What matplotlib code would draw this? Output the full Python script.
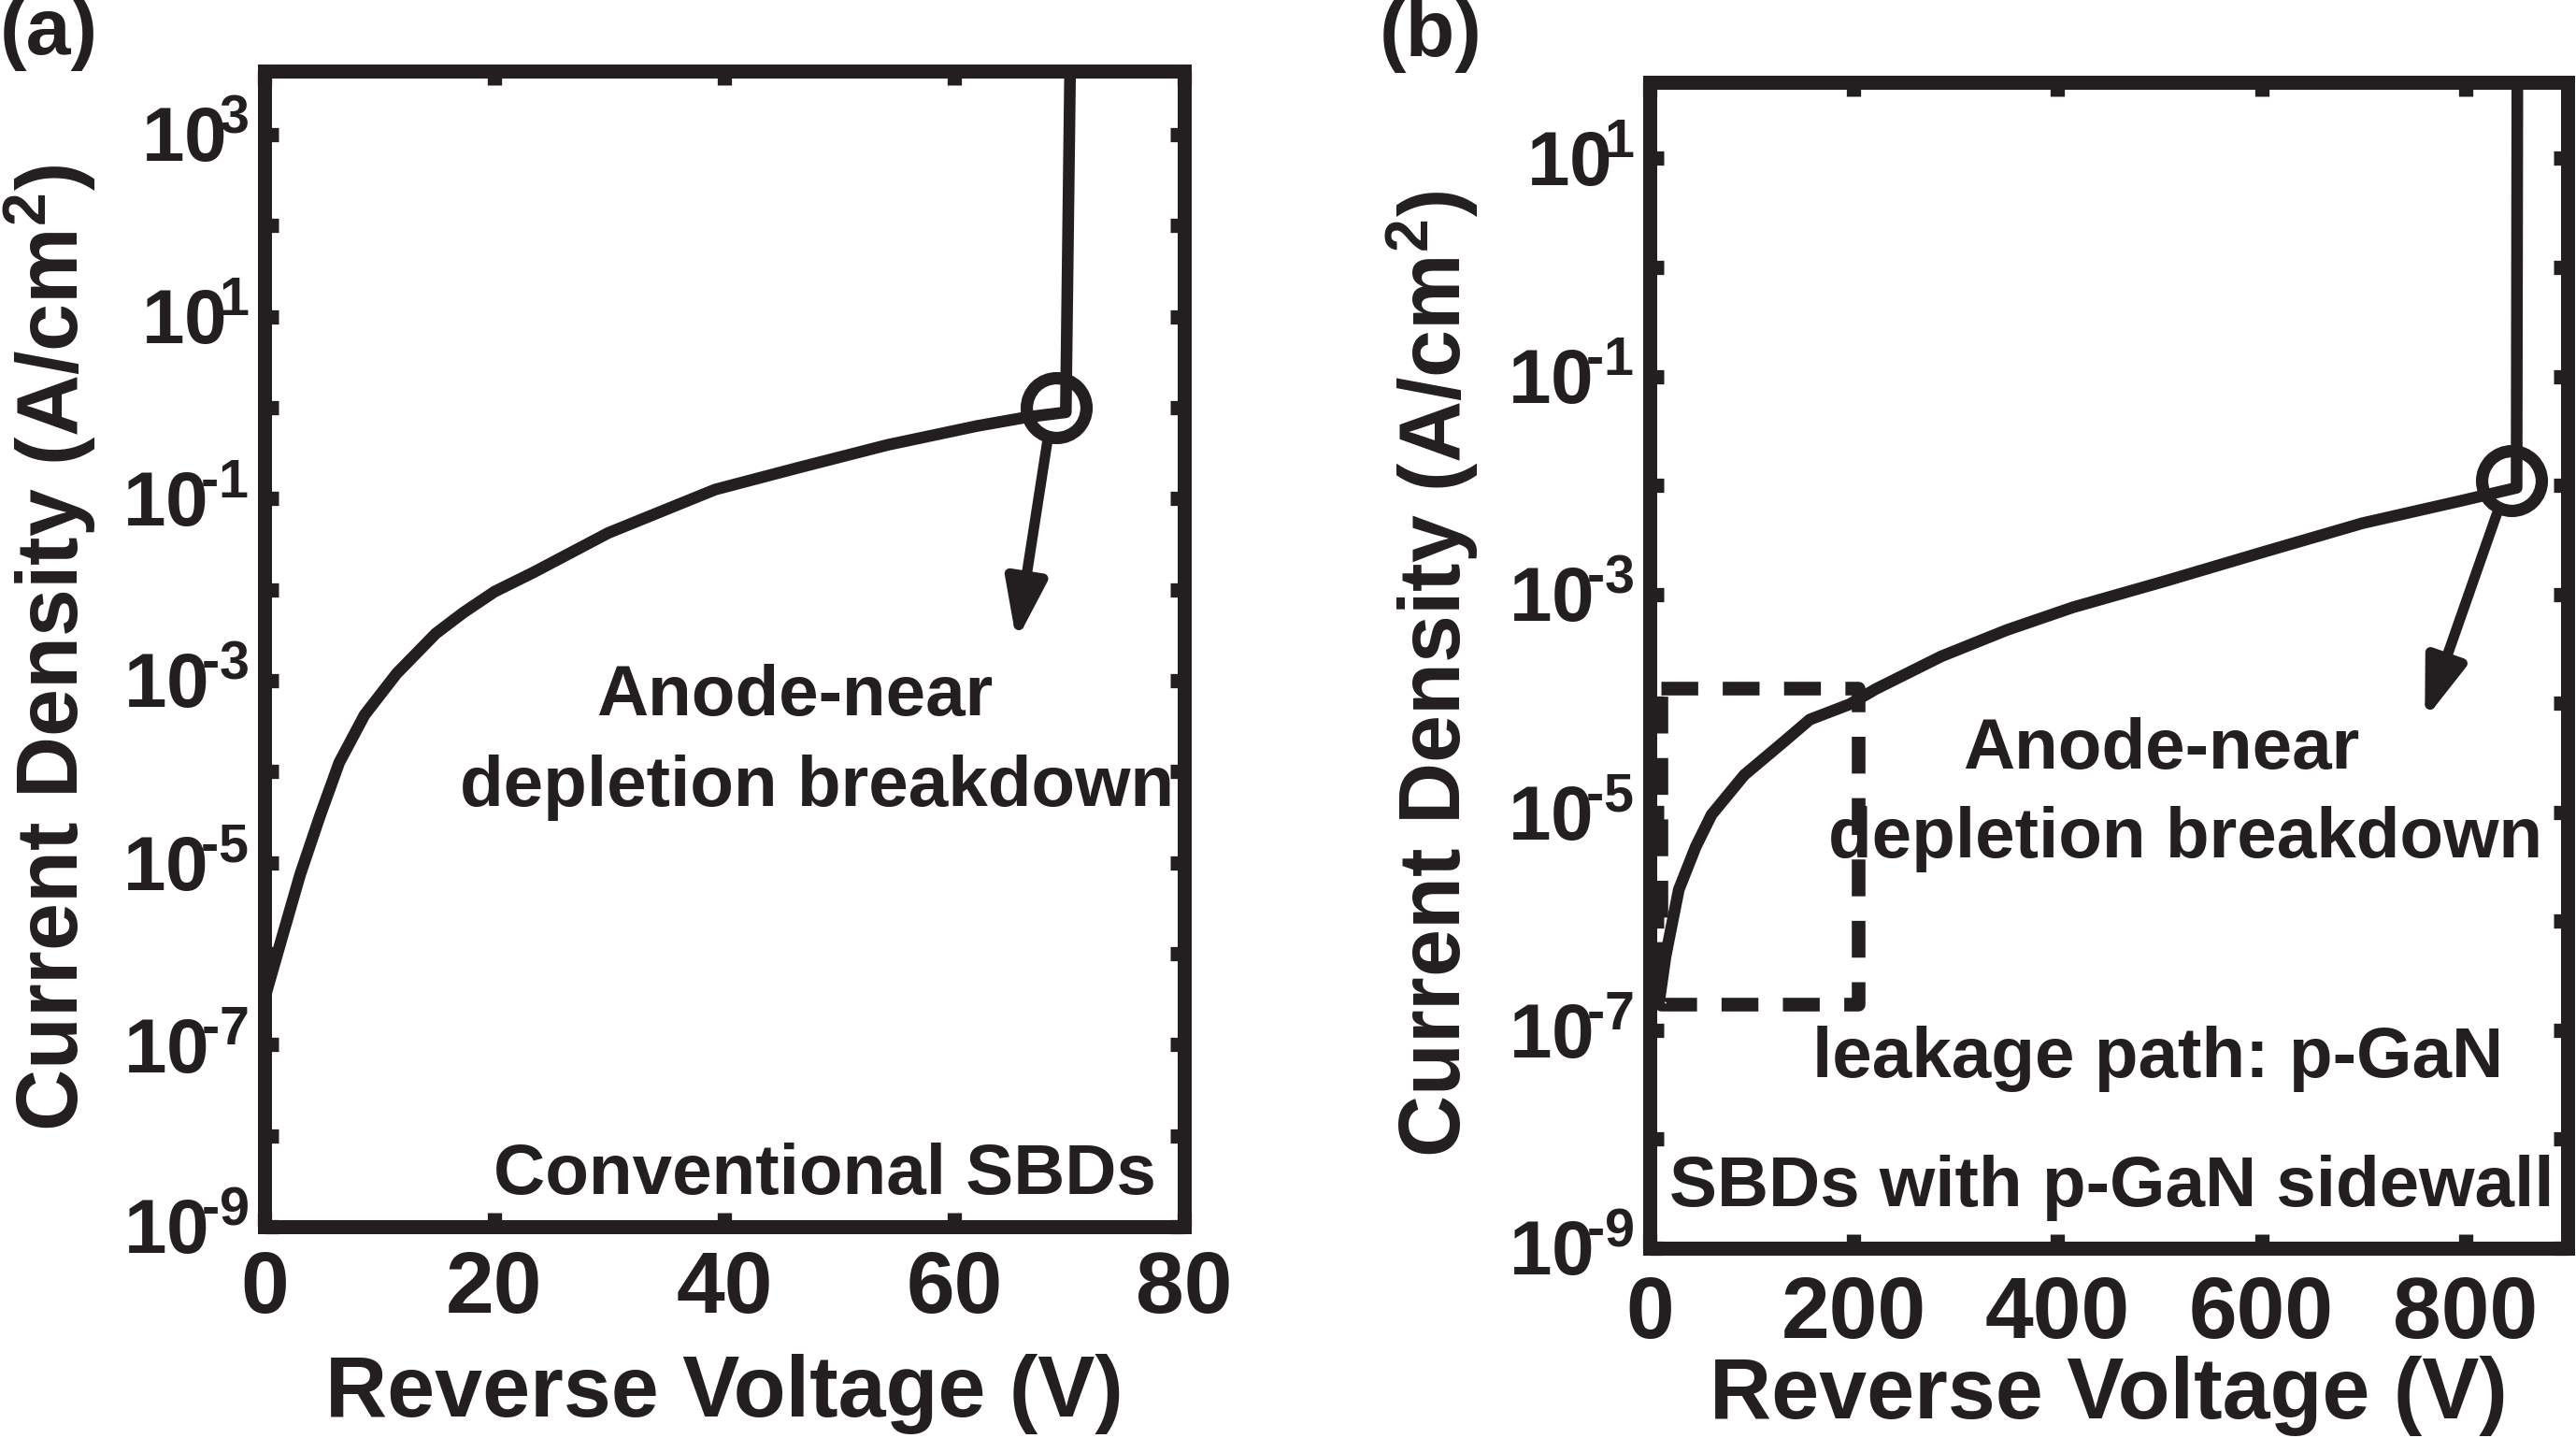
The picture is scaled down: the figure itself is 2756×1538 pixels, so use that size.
import matplotlib
matplotlib.use('Agg')
import matplotlib.pyplot as plt
from matplotlib.ticker import NullLocator

plt.rcParams['font.family'] = ['Liberation Sans', 'DejaVu Sans']
plt.rcParams['font.weight'] = 'bold'
plt.rcParams['mathtext.fontset'] = 'custom'
plt.rcParams['mathtext.bf'] = 'Liberation Sans:bold'
plt.rcParams['mathtext.rm'] = 'Liberation Sans:bold'
plt.rcParams['mathtext.it'] = 'Liberation Sans:bold'
plt.rcParams['mathtext.default'] = 'bf'

INK = '#231f20'

# (a) conventional SBDs: reverse voltage (V) vs current density (A/cm2)
va = [0.0, 1.45, 3.1, 4.8, 6.5, 8.7, 11.5, 14.9, 17.3, 20.0, 23.4, 29.9,
      39.2, 46.5, 54.2, 62.0, 66.4, 69.7, 70.1]
ja = [3.2e-7, 1.4e-6, 7.4e-6, 3.2e-5, 1.26e-4, 4.2e-4, 1.2e-3, 3.3e-3,
      5.6e-3, 9.5e-3, 1.55e-2, 4.2e-2, 0.126, 0.22, 0.39, 0.63, 0.79, 0.89, 1e4]
circ_a = (68.9, 1.0)
arrow_a = ((68.1, 0.43), (65.4, 2.75e-3))

# (b) SBDs with p-GaN sidewall
vb = [9, 11, 15.6, 28.5, 45, 60.6, 92.7, 131, 157, 196, 221.5, 286, 350,
      415, 505, 602, 699, 795, 850, 851]
jb = [1.75e-7, 2.4e-7, 4.8e-7, 1.95e-6, 4.8e-6, 9.5e-6, 2.2e-5, 4.4e-5,
      7.1e-5, 9.8e-5, 1.35e-4, 2.7e-4, 4.7e-4, 7.6e-4, 1.32e-3, 2.45e-3,
      4.5e-3, 7.2e-3, 9.5e-3, 1e3]
circ_b = (845, 1.1e-2)
arrow_b = ((830.7, 5.5e-3), (760, 7.1e-5))
box_v = [11, 204, 204, 11, 11]
box_j = [1.38e-4, 1.38e-4, 1.74e-7, 1.74e-7, 1.38e-4]

W, H = 2756, 1538
fig = plt.figure(figsize=(W / 100, H / 100), dpi=100)
axa = fig.add_axes([283 / W, (H - 1312) / H, 984 / W, 1236 / H])
axb = fig.add_axes([1765 / W, (H - 1335) / H, 982 / W, 1247 / H])


def exp_label(k):
    if k % 2 == 0:
        return ''
    if k < 0:
        return r'$10^{\!\text{-}%d}$' % (-k)
    return r'$10^{\!%d}$' % k


def style(ax, xt, klo, khi, xpad):
    ax.set_yscale('log')
    for s in ax.spines.values():
        s.set_linewidth(10.8)
        s.set_color(INK)
    ax.tick_params(which='both', direction='in', top=True, right=True,
                   length=10.5, width=11, color=INK, labelcolor=INK)
    ax.tick_params(axis='x', labelsize=67, pad=xpad)
    ax.tick_params(axis='y', labelsize=59, pad=12)
    ax.set_xticks(xt)
    ax.set_xticklabels([str(v) for v in xt])
    ks = list(range(klo, khi + 1))
    ax.set_yticks([10.0 ** k for k in ks])
    ax.set_yticklabels([exp_label(k) for k in ks])
    ax.yaxis.set_minor_locator(NullLocator())


style(axa, [0, 20, 40, 60, 80], -9, 3, 18)
axa.set_xlim(0, 80)
axa.set_ylim(1e-9, 5e3)

style(axb, [0, 200, 400, 600, 800], -9, 1, 21)
axb.set_xlim(0, 900)
axb.set_ylim(1e-9, 50)

for ax, v, j, c, arr in [(axa, va, ja, circ_a, arrow_a), (axb, vb, jb, circ_b, arrow_b)]:
    ax.plot(v, j, color=INK, lw=9, solid_joinstyle='round', solid_capstyle='round')
    ax.plot([c[0]], [c[1]], 'o', ms=46, mfc='none', mec=INK, mew=9.5)
    ax.annotate('', xy=arr[1], xytext=arr[0],
                arrowprops=dict(arrowstyle='-|>,head_length=38,head_width=13',
                                mutation_scale=1, lw=8, color=INK,
                                shrinkA=0, shrinkB=0))

axb.plot(box_v, box_j, color=INK, lw=10.5, linestyle=(0, (2.7, 1.8)))

tk = dict(ha='center', va='baseline', fontsize=55, color=INK)
axa.text(0.576, 0.4426, 'Anode-near', transform=axa.transAxes, **tk)
axa.text(0.601, 0.3637, 'depletion breakdown', transform=axa.transAxes, **tk)
axa.text(0.609, 0.028, 'Conventional SBDs', transform=axa.transAxes, **tk)

axb.text(0.557, 0.411, 'Anode-near', transform=axb.transAxes, **tk)
axb.text(0.5835, 0.3356, 'depletion breakdown', transform=axb.transAxes, **tk)
axb.text(0.554, 0.147, 'leakage path: p-GaN', transform=axb.transAxes, **tk)
axb.text(0.503, 0.036, 'SBDs with p-GaN sidewall', transform=axb.transAxes, **tk)

fig.text(0.0, (H - 58) / H, '(a)', fontsize=62, ha='left', va='baseline', color=INK)
fig.text(1476 / W, (H - 60) / H, '(b)', fontsize=62, ha='left', va='baseline', color=INK)

fig.text(775 / W, (H - 1515) / H, 'Reverse Voltage (V)', fontsize=66,
         ha='center', va='baseline', color=INK)
fig.text(2256 / W, (H - 1517) / H, 'Reverse Voltage (V)', fontsize=66,
         ha='center', va='baseline', color=INK)

ylab = r'Current Density (A/cm$^{2}$)'
fig.text(84 / W, (H - 693) / H, ylab, fontsize=66, rotation=90,
         rotation_mode='anchor', ha='center', va='baseline', color=INK)
fig.text(1563 / W, (H - 721) / H, ylab, fontsize=66, rotation=90,
         rotation_mode='anchor', ha='center', va='baseline', color=INK)

fig.savefig('out.png', dpi=100)
